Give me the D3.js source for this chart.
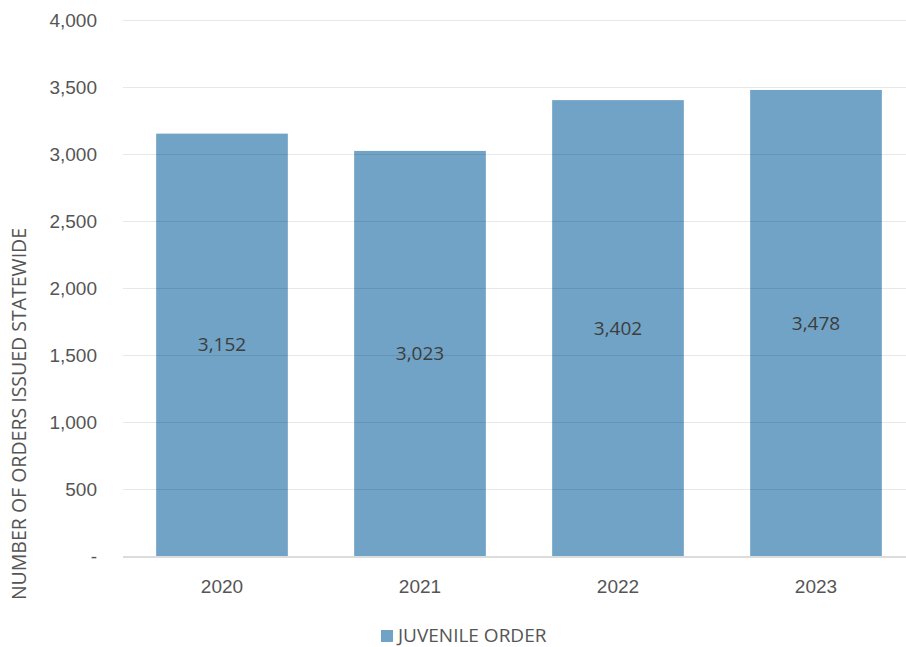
<!DOCTYPE html>
<html>
<head>
<meta charset="utf-8">
<script src="https://cdn.jsdelivr.net/npm/d3@7"></script>
<style>
  html, body { margin: 0; padding: 0; background: #fff; }
  svg { display: block; font-family: "Open Sans", "Noto Sans", sans-serif; }
</style>
</head>
<body>
<svg id="chart" width="906" height="647"></svg>
<script>
// Juvenile orders issued statewide, by year
const years = ["2020", "2021", "2022", "2023"];
const juvenileOrders = [3152, 3023, 3402, 3478];
const yTicks = [0, 500, 1000, 1500, 2000, 2500, 3000, 3500, 4000];
const seriesName = "JUVENILE ORDER";
const axisTitle = "NUMBER OF ORDERS ISSUED STATEWIDE";

const svg = d3.select("#chart");
const margin = { left: 123, right: 915, top: 20, bottom: 556 };

const x = d3.scaleBand().domain(years).range([margin.left, margin.right]).paddingInner(0.335).paddingOuter(0.1675);
const y = d3.scaleLinear().domain([0, 4000]).range([margin.bottom, margin.top]);

const textColor = "#555555";
const barColor = "#70a3c6";

// bars
svg.append("g").selectAll("rect")
  .data(years.map((d, i) => ({ year: d, value: juvenileOrders[i] })))
  .join("rect")
  .attr("x", d => x(d.year))
  .attr("width", x.bandwidth())
  .attr("y", d => y(d.value))
  .attr("height", d => y(0) - y(d.value))
  .attr("fill", barColor);

// gridlines (drawn faintly over the bars)
const yAxis = d3.axisLeft(y).tickValues(yTicks)
  .tickSize(-(906 - margin.left))
  .tickFormat(d => d === 0 ? "-" : d3.format(",")(d));
const gy = svg.append("g").attr("transform", `translate(${margin.left},0)`).call(yAxis);
gy.select(".domain").remove();
gy.selectAll(".tick line").attr("stroke", "rgba(0,0,0,0.09)").attr("stroke-width", 1);
gy.selectAll(".tick text")
  .attr("x", -26).attr("fill", textColor)
  .style("font-size", "19px");
gy.selectAll(".tick").filter(d => d === 0).select("line").remove();

// baseline axis
const xAxis = d3.axisBottom(x).tickSize(0).tickPadding(23);
const gx = svg.append("g").attr("transform", `translate(0,${y(0) + 1})`).call(xAxis);
gx.select(".domain").attr("stroke", "#d0d0d0").attr("stroke-width", 1.5)
  .attr("d", `M${margin.left},0H906`);
gx.selectAll(".tick text").attr("fill", textColor).style("font-size", "19px");

// value labels centred in each bar
svg.append("g").selectAll("text")
  .data(years.map((d, i) => ({ year: d, value: juvenileOrders[i] })))
  .join("text")
  .attr("x", d => x(d.year) + x.bandwidth() / 2)
  .attr("y", d => (y(d.value) + y(0)) / 2)
  .attr("dy", "0.35em")
  .attr("text-anchor", "middle")
  .attr("fill", "#3d3d3d")
  .style("font-size", "19px")
  .text(d => d3.format(",")(d.value));

// y-axis title
svg.append("text")
  .attr("transform", "translate(26,414) rotate(-90)")
  .attr("text-anchor", "middle")
  .attr("fill", textColor)
  .style("font-size", "19.5px")
  .text(axisTitle);

// legend
const legend = svg.append("g").attr("transform", "translate(381,630)");
legend.append("rect").attr("width", 12).attr("height", 12).attr("fill", barColor);
legend.append("text").attr("x", 17).attr("y", 5).attr("dy", "0.35em")
  .attr("fill", textColor).style("font-size", "19px").text(seriesName);
</script>
</body>
</html>
